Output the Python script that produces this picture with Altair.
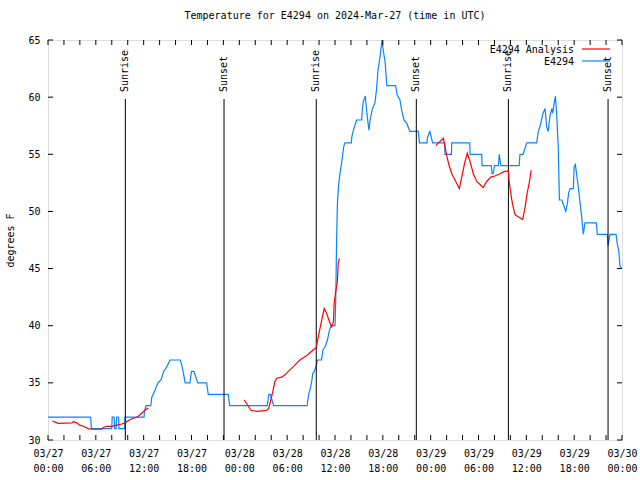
import altair as alt
import pandas as pd

# ---- data (hours since 2024-03-27 00:00 UTC, temperature degF) ----
obs_hours = [0, 5.35, 5.45, 8.0, 8.05, 8.3, 8.35, 8.55, 8.6, 8.85, 8.9, 9.6, 9.65,
             12.05, 12.1, 12.3, 12.9, 13.0, 13.2, 13.4, 13.6, 13.8, 14.2, 14.5, 14.9,
             15.3, 16.6, 16.8, 17.0, 17.2, 17.8, 18.0, 18.3, 18.5, 18.8, 19.9, 20.1,
             22.6, 22.8, 27.5, 27.7, 27.9, 28.1, 28.3, 32.5, 32.6, 32.7, 32.9, 33.1,
             33.2, 33.4, 33.6, 33.8, 34.3, 34.5, 34.8, 35.05, 35.3, 35.5, 36.0, 36.1,
             36.2, 36.3, 36.45, 36.6, 36.8, 36.95, 37.1, 37.25, 38.05, 38.1, 38.3,
             38.7, 39.35, 39.4, 39.55, 39.8, 40.0, 40.25, 40.4, 40.7, 41.0, 41.2,
             41.4, 41.65, 41.9, 42.05, 42.3, 42.5, 43.6, 43.65, 43.8, 44.15, 44.35,
             44.65, 45.0, 45.4, 46.45, 46.5, 46.6, 47.55, 47.6, 47.9, 48.25, 49.75,
             49.8, 50.6, 50.65, 52.9, 52.95, 54.4, 54.45, 55.6, 55.7, 55.85, 56.0,
             56.5, 56.6, 56.8, 59.1, 59.2, 59.6, 60.05, 61.3, 61.5, 61.7, 61.9, 62.1,
             62.35, 62.55, 62.75, 62.95, 63.2, 63.3, 63.45, 63.65, 63.8, 64.0, 64.15,
             64.45, 64.65, 64.95, 65.15, 65.3, 65.5, 65.9, 66.0, 66.15, 66.3, 66.5,
             66.75, 66.95, 67.05, 67.15, 67.35, 68.8, 68.9, 70.15, 70.25, 70.5, 71.25,
             71.4, 71.6, 71.75, 72.0]
obs_temps = [32, 32, 31, 31, 32, 32, 31, 31, 32, 32, 31, 31, 32,
             32, 32.5, 33, 33, 33.7, 34, 34.3, 34.7, 35, 35.3, 36, 36.4,
             37, 37, 36.5, 35.8, 35, 35, 36, 36, 35.6, 35, 35, 34,
             34, 33, 33, 34, 34, 33.5, 33, 33, 33.5, 34, 34.5, 35.2,
             35.8, 36, 36.4, 37, 37, 37.9, 38.2, 38.75, 39.6, 40, 40, 42.5,
             47.5, 50.7, 52.3, 53.2, 54.1, 54.9, 55.7, 56, 56, 56.5, 57.1,
             58, 58, 58.7, 59.6, 60.1, 58.6, 57.1, 58, 59, 59.45, 60.6,
             62.4, 63.5, 65, 64.1, 63, 61, 61, 60.8, 60.2, 59.75, 58.9,
             58, 57.7, 57, 57, 56.6, 56, 56, 56.5, 57, 56, 56,
             55, 55, 56, 56, 55, 55, 54, 54, 53.3, 53.3, 54,
             54, 55, 54, 54, 55, 55, 56, 56, 57, 57.4, 58, 58.6,
             59, 57.4, 57, 58.3, 59, 58.6, 59.3, 60.1, 58.6, 55.7, 51,
             51, 50.6, 50, 50.7, 51.6, 52, 52, 53.9, 54.1, 53.3, 52.2,
             50.7, 49.5, 48.7, 48, 49, 49, 48, 48, 47, 48, 48,
             47.2, 46.5, 45.2, 45]

ana_hours = [0.55, 1.3, 3.0, 3.2, 3.6, 4.0, 4.45, 5.05, 5.5, 6.75, 6.95, 7.35, 8.0,
             8.6, 9.25, 9.65, 10.3, 10.9, 11.2, 12.15, 12.6,
             24.6, 25.1, 25.45, 26.2, 26.8, 27.45, 27.7, 27.95, 28.25, 28.45, 28.7,
             29.3, 29.75, 30.15, 30.75, 31.6, 32.45, 33.3, 33.65, 33.9, 34.2, 34.55,
             34.65, 34.95, 35.3, 35.5, 35.6, 35.8, 35.9, 36.05, 36.3, 36.4, 36.55,
             48.65, 48.95, 49.4, 49.6, 49.8, 50.0, 50.3, 50.65, 51.05, 51.6, 51.9,
             52.3, 52.6, 52.95, 53.35, 53.8, 54.6, 55.0, 55.55, 56.05, 56.7, 57.3,
             57.75, 57.85, 58.15, 58.35, 58.6, 59.2, 59.55, 59.85, 60.1, 60.4, 60.6]
ana_temps = [31.66, 31.46, 31.5, 31.6, 31.5, 31.3, 31.2, 31.0, 30.94, 30.94, 31.1,
             31.2, 31.2, 31.3, 31.4, 31.5, 31.8, 31.95, 32.0, 32.6, 32.8,
             33.5, 33.0, 32.6, 32.5, 32.55, 32.6, 32.8, 33.5, 34.4, 35.1, 35.4,
             35.5, 35.7, 36.0, 36.4, 37.0, 37.4, 37.9, 38.1, 39.0, 40.06, 41.2,
             41.5, 41.1, 40.35, 40.06, 39.9, 40.35, 42.0, 42.8, 43.85, 45.45, 45.9,
             55.75, 56.0, 56.25, 56.4, 55.7, 54.9, 54.06, 53.3, 52.75, 52.0, 53.0,
             54.35, 55.1, 54.35, 53.3, 52.6, 52.1, 52.6, 53.0, 53.1, 53.3, 53.5,
             53.55, 52.6, 51.1, 50.4, 49.7, 49.45, 49.3, 50.4, 51.6, 52.6, 53.6]
ana_segment = [1] * 21 + [2] * 33 + [3] * 33

event_hours = [9.7, 22.08, 33.65, 46.2, 57.75, 70.25]
event_labels = ["Sunrise", "Sunset", "Sunrise", "Sunset", "Sunrise", "Sunset"]

series_names = ["E4294 Analysis", "E4294"]
series_colors = ["#ff0000", "#0a84ff"]

x_tick_hours = list(range(0, 73, 2))
x_label_hours = list(range(0, 73, 6))
y_ticks = [30, 35, 40, 45, 50, 55, 60, 65]

FONT = "DejaVu Sans Mono"
W, H = 574, 400

obs = pd.DataFrame({"h": obs_hours, "t": obs_temps})
ana = pd.DataFrame({"h": ana_hours, "t": ana_temps, "seg": ana_segment})
ev = pd.DataFrame({"h": event_hours, "label": event_labels})
xt = pd.DataFrame({"h": x_tick_hours})
yt = pd.DataFrame({"t": y_ticks})
one = pd.DataFrame({"k": [0]})

xscale = alt.Scale(domain=[0, 72], nice=False, zero=False)
yscale = alt.Scale(domain=[30, 65], nice=False, zero=False)

label_expr = ("['03/' + (27 + floor(datum.value / 24)), "
              "(datum.value % 24 < 10 ? '0' : '') + (datum.value % 24) + ':00']")

xaxis = alt.Axis(values=x_label_hours, labelExpr=label_expr, title=None,
                 ticks=False, domain=False, grid=False, labelFont=FONT,
                 labelFontSize=10, labelPadding=8, labelLineHeight=15,
                 labelBaseline="top", labelColor="black", labelFlush=False)
yaxis = alt.Axis(values=y_ticks, title="degrees F", ticks=False, domain=False,
                 grid=False, labelFont=FONT, labelFontSize=10, labelPadding=8,
                 labelColor="black", titleFont=FONT, titleFontSize=10,
                 titleFontWeight="normal", titleColor="black", titleX=-38,
                 titleY=200, titleAngle=270, titleAlign="center",
                 titleBaseline="middle")

base_obs = alt.Chart(obs).mark_line(color=series_colors[1], strokeWidth=1.2, clip=True).encode(
    x=alt.X("h:Q", scale=xscale, axis=xaxis),
    y=alt.Y("t:Q", scale=yscale, axis=yaxis),
)

ana_line = alt.Chart(ana).mark_line(color=series_colors[0], strokeWidth=1.2, clip=True).encode(
    x=alt.X("h:Q", scale=xscale),
    y=alt.Y("t:Q", scale=yscale),
    detail="seg:N",
)

ev_rule = alt.Chart(ev).mark_rule(color="black", strokeWidth=1).encode(
    x=alt.X("h:Q", scale=xscale),
    y=alt.value(59),
    y2=alt.value(H),
)
ev_text = alt.Chart(ev).mark_text(angle=270, align="left", baseline="middle",
                                  font=FONT, fontSize=10, color="black").encode(
    x=alt.X("h:Q", scale=xscale),
    y=alt.value(52),
    text="label:N",
)

xt_bottom = alt.Chart(xt).mark_rule(color="black").encode(
    x=alt.X("h:Q", scale=xscale), y=alt.value(H), y2=alt.value(H - 5))
xt_top = alt.Chart(xt).mark_rule(color="black").encode(
    x=alt.X("h:Q", scale=xscale), y=alt.value(0), y2=alt.value(5))
yt_left = alt.Chart(yt).mark_rule(color="black").encode(
    y=alt.Y("t:Q", scale=yscale), x=alt.value(0), x2=alt.value(5))
yt_right = alt.Chart(yt).mark_rule(color="black").encode(
    y=alt.Y("t:Q", scale=yscale), x=alt.value(W), x2=alt.value(W - 5))

leg_t1 = alt.Chart(one).mark_text(align="right", baseline="middle", font=FONT,
                                  fontSize=10, color="black").encode(
    x=alt.value(526), y=alt.value(10), text=alt.value(series_names[0]))
leg_t2 = alt.Chart(one).mark_text(align="right", baseline="middle", font=FONT,
                                  fontSize=10, color="black").encode(
    x=alt.value(526), y=alt.value(22), text=alt.value(series_names[1]))
leg_l1 = alt.Chart(one).mark_rule(color=series_colors[0], strokeWidth=1.2).encode(
    x=alt.value(534), x2=alt.value(562), y=alt.value(9))
leg_l2 = alt.Chart(one).mark_rule(color=series_colors[1], strokeWidth=1.2).encode(
    x=alt.value(534), x2=alt.value(562), y=alt.value(21))

chart = alt.layer(
    base_obs, ev_rule, ev_text, ana_line, xt_bottom, xt_top, yt_left, yt_right,
    leg_t1, leg_t2, leg_l1, leg_l2,
).properties(
    width=W, height=H,
    title=alt.TitleParams("Temperature for E4294 on 2024-Mar-27 (time in UTC)",
                          font=FONT, fontSize=10, fontWeight="normal",
                          anchor="middle", offset=14, color="black"),
    padding={"left": 48, "top": 40, "right": 18, "bottom": 40},
    autosize=alt.AutoSizeParams(type="none"),
).configure_view(stroke="black", strokeWidth=1).configure(background="white")

chart.save("out.html", embed_options={"renderer": "svg", "actions": False})
